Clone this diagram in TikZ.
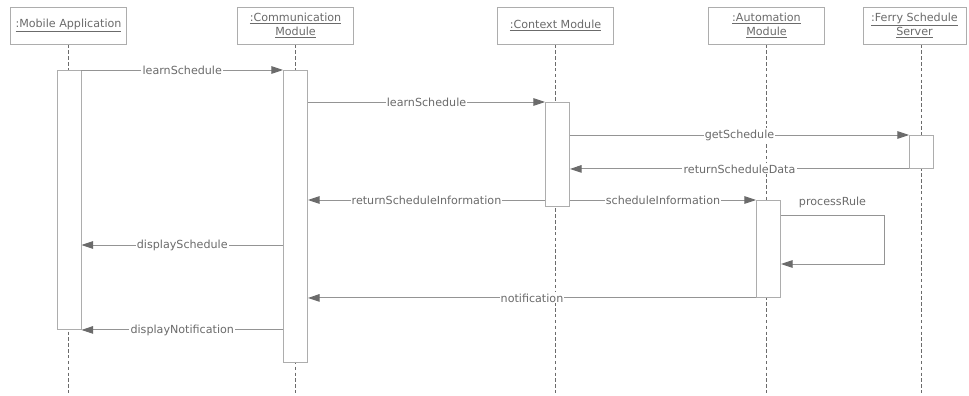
\documentclass[tikz,border=0pt]{standalone}
\usepackage{fontspec}
\setmainfont{DejaVu Sans}
\usepackage{tikz}
\usetikzlibrary{arrows.meta,positioning}
\pgfdeclarelayer{background layer}
\pgfsetlayers{background layer,main}
\definecolor{gray4}{gray}{0.42}
\definecolor{gray6}{gray}{0.58}
\definecolor{gray7}{gray}{0.68}

\begin{document}
\begin{tikzpicture}
[x=0.03cm,y=-0.03cm,align=center,font=\fontsize{9.5}{12.5}\selectfont,text=gray4]
\tikzstyle{head}=[draw=gray7,fill=white,line width=0.8pt,minimum width=3.48cm,minimum height=1.11cm,inner sep=1pt]
\tikzstyle{bar}=[draw=gray7,fill=white,line width=0.8pt,minimum width=0.72cm,inner sep=0pt,anchor=north]
\tikzstyle{life}=[gray4,line width=0.8pt,dash pattern=on 3pt off 2pt]
\tikzstyle{msg}=[gray6,line width=0.8pt,-{Triangle[length=10pt,width=6.5pt,color=gray4]}]
\tikzstyle{lbl}=[fill=white,inner sep=1pt,text=gray4]

\useasboundingbox (0,0) rectangle (969,396);

\draw node [head] (mobile) at (68.5,25.5) {\underline{:Mobile Application}};
\draw node [head] (comm) at (295.5,25.5) {\underline{:Communication}\\\underline{Module}};
\draw node [head] (context) at (555.5,25.5) {\underline{:Context Module}};
\draw node [head] (auto) at (766.5,25.5) {\underline{:Automation}\\\underline{Module}};
\draw node [head,minimum width=3.09cm] (ferry) at (914.5,25.5) {\underline{:Ferry Schedule}\\\underline{Server}};

\draw node [bar,minimum height=7.77cm] (mobBar) at (69,70) {};
\draw node [bar,minimum height=8.76cm] (commBar) at (295.5,70) {};
\draw node [bar,minimum height=3.12cm] (ctxBar) at (557.5,102) {};
\draw node [bar,minimum height=0.99cm] (ferryBar) at (921.5,135) {};
\draw node [bar,minimum height=2.91cm] (autoBar) at (768.5,200) {};

\coordinate (bottom) at (0,393);
\coordinate (loopTop) at (884,215);
\coordinate (loopEnd) at (884,264);
\coordinate (rowDisp) at (0,245);

\begin{pgfonlayer}{background layer}
\draw [life] (mobile.south) -- (mobile.south |- bottom);
\draw [life] (comm.south) -- (comm.south |- bottom);
\draw [life] (context.south) -- (context.south |- bottom);
\draw [life] (auto.south) -- (auto.south |- bottom);
\draw [life] (ferryBar.north |- ferry.south) -- (ferryBar.north |- bottom);
\end{pgfonlayer}

\draw [msg] (mobBar.north east) -- node [lbl] {learnSchedule} (commBar.north west);
\draw [msg] (commBar.east |- ctxBar.north) -- node [lbl] {learnSchedule} (ctxBar.north west);
\draw [msg] (ctxBar.east |- ferryBar.north) -- node [lbl] {getSchedule} (ferryBar.north west);
\draw [msg] (ferryBar.south west) -- node [lbl] {returnScheduleData} (ctxBar.east |- ferryBar.south);
\draw [msg] (ctxBar.west |- autoBar.north) -- node [lbl] {returnScheduleInformation} (commBar.east |- autoBar.north);
\draw [msg] (ctxBar.east |- autoBar.north) -- node [lbl] {scheduleInformation} (autoBar.north west);
\draw [msg] (autoBar.east |- loopTop) -- node [above=2pt,text=gray4] {processRule} (loopTop) -- (loopEnd) -- (autoBar.east |- loopEnd);
\draw [msg] (commBar.west |- rowDisp) -- node [lbl] {displaySchedule} (mobBar.east |- rowDisp);
\draw [msg] (autoBar.south west) -- node [lbl] {notification} (commBar.east |- autoBar.south);
\draw [msg] (commBar.west |- mobBar.south) -- node [lbl] {displayNotification} (mobBar.south east);

\end{tikzpicture}
\end{document}
